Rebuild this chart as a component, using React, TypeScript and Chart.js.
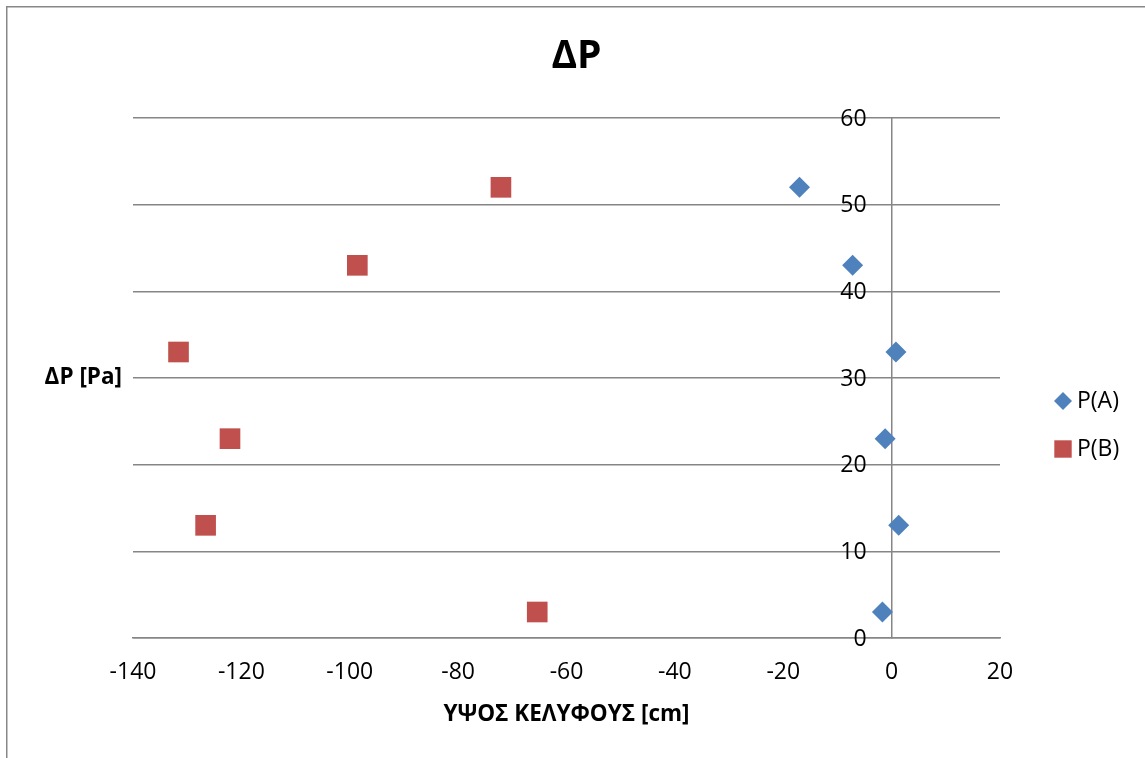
import React, { useEffect, useRef } from "react";
import { Chart, registerables } from "chart.js";

Chart.register(...registerables);

// Shell height (cm) and pressure difference (Pa) for the two pressure taps
const pressureLevels = [52, 43, 33, 23, 13, 3];
const heightA = [-17, -7.2, 0.8, -1.2, 1.3, -1.7];
const heightB = [-72.1, -98.6, -131.6, -122.1, -126.6, -65.4];
const seriesNames = ["P(A)", "P(B)"];
const chartTitle = "ΔP";
const xAxisTitle = "ΥΨΟΣ ΚΕΛΥΦΟΥΣ [cm]";
const yAxisTitle = "ΔP [Pa]";

const FONT = "'Open Sans', 'DejaVu Sans', sans-serif";
const GRID = "#868686";

// Frame, chart title, y tick labels beside the crossing axis, horizontal y title and legend
const decorations = {
  id: "decorations",
  beforeDraw(chart: any) {
    const { ctx } = chart;
    ctx.save();
    ctx.fillStyle = "#ffffff";
    ctx.fillRect(0, 0, chart.width, chart.height);
    ctx.strokeStyle = "#888888";
    ctx.lineWidth = 1.5;
    ctx.beginPath();
    ctx.moveTo(6.75, chart.height + 2);
    ctx.lineTo(6.75, 6.75);
    ctx.lineTo(chart.width + 2, 6.75);
    ctx.stroke();
    ctx.restore();
  },
  afterDraw(chart: any) {
    const { ctx, chartArea } = chart;
    const xs = chart.scales.x;
    const ys = chart.scales.y;
    ctx.save();
    ctx.fillStyle = "#000000";
    ctx.textBaseline = "middle";

    // chart title
    ctx.font = `bold 39px ${FONT}`;
    ctx.textAlign = "center";
    ctx.fillText(chartTitle, chart.width / 2 + 4, 57);

    // y tick labels, set off to the left of the axis at x = 0
    ctx.font = `23px ${FONT}`;
    ctx.textAlign = "right";
    const axisX = xs.getPixelForValue(0);
    ys.ticks.forEach((t: any) => {
      ctx.fillText(String(t.value), axisX - 25, ys.getPixelForValue(t.value) + 1);
    });

    // horizontal y-axis title
    ctx.font = `bold 22.5px ${FONT}`;
    ctx.textAlign = "right";
    ctx.fillText(yAxisTitle, chartArea.left - 11, (chartArea.top + chartArea.bottom) / 2);

    // legend
    const midY = (chartArea.top + chartArea.bottom) / 2;
    chart.data.datasets.forEach((ds: any, i: number) => {
      const y = midY + 23 + i * 48;
      const x = chartArea.right + 63;
      ctx.fillStyle = ds.pointBackgroundColor;
      ctx.beginPath();
      if (ds.pointStyle === "rect") {
        ctx.rect(x - 8.7, y - 8.7, 17.4, 17.4);
      } else {
        ctx.moveTo(x, y - 9);
        ctx.lineTo(x + 9, y);
        ctx.lineTo(x, y + 9);
        ctx.lineTo(x - 9, y);
        ctx.closePath();
      }
      ctx.fill();
      ctx.fillStyle = "#000000";
      ctx.font = `23px ${FONT}`;
      ctx.textAlign = "left";
      ctx.fillText(ds.label, x + 14, y);
    });
    ctx.restore();
  },
};

export default function App() {
  const canvasRef = useRef<HTMLCanvasElement | null>(null);

  useEffect(() => {
    if (!canvasRef.current) return;
    const chart = new Chart(canvasRef.current, {
      type: "scatter",
      data: {
        datasets: [
          {
            label: seriesNames[0],
            data: heightA.map((x, i) => ({ x, y: pressureLevels[i] })),
            pointStyle: "rectRot",
            pointRadius: 10.5,
            pointBackgroundColor: "#4F81BD",
            pointBorderColor: "#4F81BD",
            pointBorderWidth: 0,
          },
          {
            label: seriesNames[1],
            data: heightB.map((x, i) => ({ x, y: pressureLevels[i] })),
            pointStyle: "rect",
            pointRadius: 14.6,
            pointBackgroundColor: "#C0504D",
            pointBorderColor: "#C0504D",
            pointBorderWidth: 0,
          },
        ] as any,
      },
      options: {
        animation: false,
        responsive: true,
        maintainAspectRatio: false,
        layout: { padding: { left: 133, right: 145, top: 118, bottom: 19.5 } },
        plugins: {
          legend: { display: false },
          title: { display: false },
          tooltip: { enabled: false },
        },
        scales: {
          x: {
            type: "linear",
            position: "bottom",
            min: -140,
            max: 20,
            ticks: { stepSize: 20, color: "#000000", font: { size: 23, family: FONT }, padding: 21 },
            grid: { display: false, drawTicks: false },
            border: { display: true, color: GRID, width: 1.5 },
            title: {
              display: true,
              text: xAxisTitle,
              color: "#000000",
              font: { size: 22.5, weight: "bold", family: FONT },
              padding: { top: -6.1, bottom: 10 },
            },
          },
          y: {
            type: "linear",
            position: { x: 0 } as any,
            min: 0,
            max: 60,
            ticks: { stepSize: 10, display: false },
            grid: { color: GRID, lineWidth: 1.5, drawTicks: false },
            border: { display: true, color: GRID, width: 1.5 },
          },
        },
      },
      plugins: [decorations],
    });
    return () => chart.destroy();
  }, []);

  return (
    <div style={{ position: "fixed", left: 0, top: 0, width: 1145, height: 758, background: "#fff" }}>
      <canvas ref={canvasRef} />
    </div>
  );
}
